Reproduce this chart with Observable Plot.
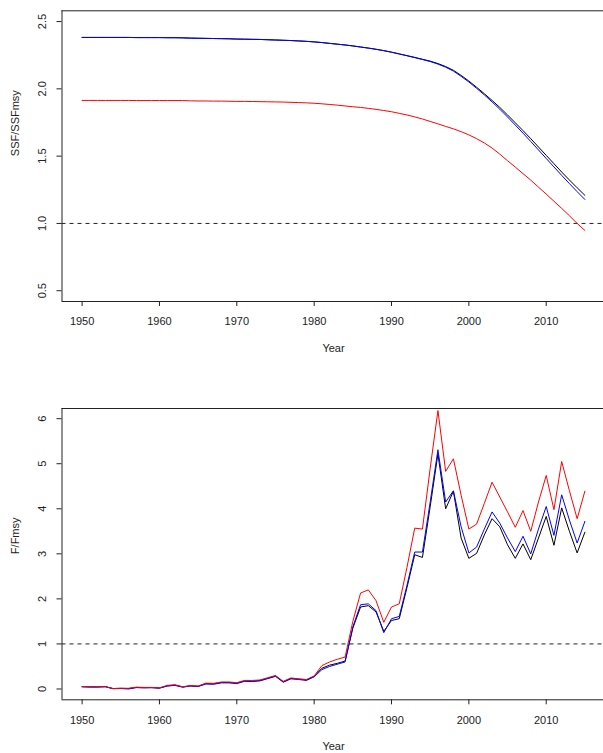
<!DOCTYPE html>
<html><head><meta charset="utf-8">
<script src="https://cdn.jsdelivr.net/npm/d3@7"></script>
<script src="https://cdn.jsdelivr.net/npm/@observablehq/plot@0.6"></script>
<style>body{margin:0;background:#fff} #chart svg{display:block}</style>
</head><body><div id="chart"></div>
<script>
const years = [1950,1951,1952,1953,1954,1955,1956,1957,1958,1959,1960,1961,1962,1963,1964,1965,1966,1967,1968,1969,1970,1971,1972,1973,1974,1975,1976,1977,1978,1979,1980,1981,1982,1983,1984,1985,1986,1987,1988,1989,1990,1991,1992,1993,1994,1995,1996,1997,1998,1999,2000,2001,2002,2003,2004,2005,2006,2007,2008,2009,2010,2011,2012,2013,2014,2015];

// SSF/SSFmsy
const ssfBlack = [2.382,2.382,2.382,2.382,2.382,2.382,2.382,2.381,2.381,2.381,2.381,2.380,2.380,2.379,
  2.377,2.376,2.375,2.374,2.373,2.372,2.370,2.369,2.368,2.367,2.365,2.363,2.361,2.359,2.356,2.353,2.349,2.344,
  2.338,2.332,2.326,2.319,2.311,2.303,2.294,2.284,2.273,2.260,2.247,2.234,2.220,2.206,2.188,2.166,2.138,2.100,
  2.058,2.012,1.964,1.914,1.862,1.806,1.748,1.690,1.630,1.568,1.506,1.444,1.382,1.323,1.265,1.209];
const ssfBlue = [2.382,2.382,2.382,2.382,2.382,2.382,2.382,2.381,2.381,2.381,2.381,2.380,2.380,2.379,
  2.377,2.376,2.375,2.374,2.373,2.372,2.370,2.369,2.368,2.367,2.365,2.363,2.361,2.359,2.356,2.353,2.349,2.344,
  2.338,2.332,2.326,2.319,2.311,2.303,2.294,2.284,2.272,2.259,2.246,2.232,2.218,2.203,2.184,2.161,2.132,2.093,
  2.051,2.004,1.955,1.903,1.849,1.791,1.731,1.671,1.609,1.546,1.483,1.420,1.357,1.296,1.236,1.178];
const ssfRed = [1.914,1.914,1.914,1.914,1.914,1.914,1.914,1.913,1.913,1.913,1.913,1.913,1.913,1.913,
  1.911,1.910,1.910,1.909,1.909,1.908,1.907,1.907,1.906,1.905,1.904,1.903,1.902,1.900,1.898,1.896,
  1.893,1.889,1.884,1.879,1.873,1.867,1.862,1.855,1.848,1.839,1.830,1.818,1.806,1.792,1.776,1.758,1.740,1.721,1.703,1.682,
  1.658,1.630,1.598,1.560,1.515,1.466,1.419,1.370,1.322,1.270,1.218,1.165,1.112,1.057,1.000,0.948];

// F/Fmsy
const fBlack = [0.05,0.045,0.045,0.05,0.01,0.015,0.01,0.035,0.03,0.03,
  0.02,0.07,0.085,0.045,0.07,0.06,0.12,0.115,0.145,0.145,
  0.13,0.18,0.175,0.19,0.24,0.29,0.16,0.235,0.22,0.2,
  0.28,0.46,0.53,0.57,0.62,1.35,1.82,1.85,1.71,1.28,
  1.52,1.56,2.25,2.98,2.92,4.05,5.22,4.0,4.39,3.35,
  2.90,3.01,3.42,3.78,3.6,3.2,2.90,3.22,2.87,3.35,
  3.83,3.19,4.02,3.5,3.02,3.48];
const fBlue = [0.05,0.045,0.045,0.055,0.005,0.01,0.0,0.03,0.025,0.03,
  0.02,0.065,0.08,0.04,0.065,0.055,0.11,0.105,0.135,0.135,
  0.12,0.17,0.165,0.18,0.23,0.28,0.15,0.225,0.21,0.19,
  0.27,0.43,0.50,0.55,0.60,1.38,1.87,1.89,1.74,1.25,
  1.56,1.61,2.3,3.04,3.04,4.15,5.31,4.15,4.40,3.6,
  3.02,3.15,3.55,3.93,3.68,3.35,3.05,3.39,3.0,3.55,
  4.05,3.41,4.31,3.75,3.24,3.72];
const fRed = [0.055,0.05,0.05,0.05,0.01,0.015,0.015,0.04,0.035,0.035,
  0.025,0.08,0.095,0.05,0.075,0.065,0.13,0.125,0.155,0.155,
  0.14,0.19,0.19,0.2,0.25,0.3,0.17,0.245,0.225,0.21,
  0.29,0.52,0.60,0.66,0.71,1.5,2.13,2.2,1.96,1.48,
  1.82,1.89,2.7,3.57,3.55,4.9,6.18,4.83,5.11,4.3,
  3.55,3.66,4.12,4.59,4.26,3.93,3.59,3.96,3.50,4.15,
  4.74,3.98,5.05,4.4,3.78,4.39];

const xTicks = [1950,1960,1970,1980,1990,2000,2010];
const ssfTicks = [0.5,1.0,1.5,2.0,2.5];
const ssfTickLabels = ["0.5","1.0","1.5","2.0","2.5"];
const fTicks = [0,1,2,3,4,5,6];
const fTickLabels = ["0","1","2","3","4","5","6"];
const seriesColors = ["#000000","#0000ff","#ff0000"];
const xLabel = "Year";
const ssfLabel = "SSF/SSFmsy";
const fLabel = "F/Fmsy";

const FONT = "'Liberation Sans', Arial, sans-serif";
const TXT = "#222";
const X0 = 1947.4, X1 = 2017.6;
const ML = 61.5;

function panel({height, marginTop, marginBottom, yDomain, ticks, tickLabels, ylabel, series}) {
  const rows = s => years.map((year, i) => ({year, value: s[i]}));
  const lines = series.map((s, k) => Plot.line(rows(s), {x: "year", y: "value", stroke: seriesColors[k], strokeWidth: 1, clip: true}));
  return Plot.plot({
    width: 603, height, marginLeft: ML, marginRight: 0, marginTop, marginBottom,
    style: {fontFamily: FONT, fontSize: "11px", color: TXT, background: "#fff"},
    x: {domain: [X0, X1], range: [ML, 604.5]},
    y: {domain: yDomain},
    marks: [
      Plot.axisX(xTicks, {anchor: "bottom", tickSize: 5, tickPadding: 11, tickFormat: d => String(d), label: null, fontSize: 11}),
      Plot.axisY(ticks, {anchor: "left", tickSize: 5, tickFormat: () => "", label: null}),
      Plot.text(ticks, {y: d => d, text: (d, i) => tickLabels[i], frameAnchor: "left", dx: -19.5, rotate: -90, lineAnchor: "middle", textAnchor: "middle", fontSize: 11, fill: TXT}),
      Plot.text([xLabel], {x: () => (X0 + X1) / 2, frameAnchor: "bottom", dy: 47, lineAnchor: "middle", fontSize: 11, fill: TXT}),
      Plot.text([ylabel], {frameAnchor: "left", dx: -46.5, rotate: -90, lineAnchor: "middle", fontSize: 11, fill: TXT}),
      Plot.ruleY([1], {x1: X0, x2: X1, stroke: "#222", strokeDasharray: "4,4", strokeWidth: 1}),
      ...lines,
      Plot.ruleY([yDomain[1], yDomain[0]], {x1: X0, x2: X1, stroke: "#222", strokeWidth: 1}),
      Plot.ruleX([X0], {y1: yDomain[0], y2: yDomain[1], stroke: "#222", strokeWidth: 1})
    ]
  });
}

const topPanel = panel({height: 376, marginTop: 10.3, marginBottom: 75, yDomain: [0.42, 2.58],
  ticks: ssfTicks, tickLabels: ssfTickLabels, ylabel: ssfLabel, series: [ssfBlack, ssfBlue, ssfRed]});
const bottomPanel = panel({height: 377, marginTop: 32, marginBottom: 53.7, yDomain: [-0.24, 6.226],
  ticks: fTicks, tickLabels: fTickLabels, ylabel: fLabel, series: [fBlack, fBlue, fRed]});
document.getElementById("chart").append(topPanel, bottomPanel);
</script>
</body></html>
